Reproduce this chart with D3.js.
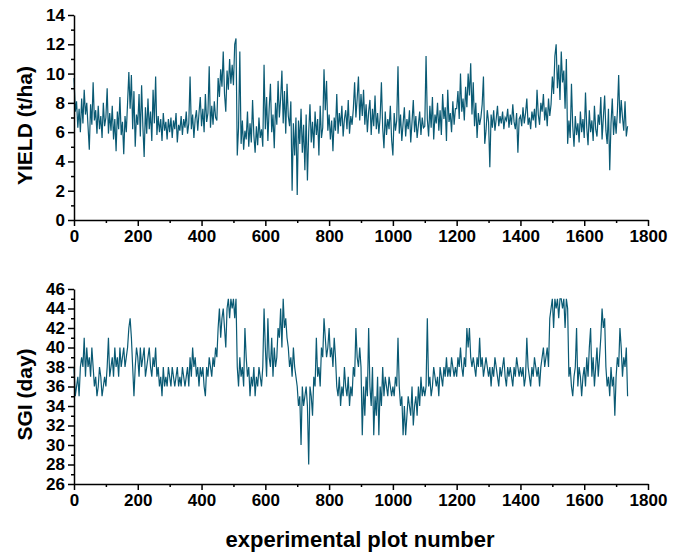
<!DOCTYPE html>
<html>
<head>
<meta charset="utf-8">
<script src="https://cdn.jsdelivr.net/npm/d3@7/dist/d3.min.js"></script>
<style>
  body { margin: 0; background: #fff; }
  text { font-family: "Liberation Sans", Arial, sans-serif; font-weight: bold; }
</style>
</head>
<body>
<div class="chart"></div>
<script>
const width = 686
const height = 556

// one reading every 4 plots (plot number = index * plotStep)
const plotStep = 4

// YIELD (t/ha)
const yieldValues = [
  9.7, 7.4, 8.1, 6.3, 7.6, 6.0, 8.3, 6.6, 8.9, 7.2, 8.0, 6.4, 4.8, 7.9, 6.5, 9.4, 6.8, 7.5, 5.9, 7.8, 6.2, 7.1, 5.6, 8.0, 6.4,
  7.0, 9.0, 5.9, 7.3, 6.1, 7.8, 5.5, 6.9, 4.7, 7.4, 6.2, 8.4, 5.8, 6.7, 4.5, 7.1, 6.0, 8.0, 10.1, 7.6, 9.9, 6.2, 8.8, 5.0, 7.2,
  6.5, 8.6, 5.7, 9.2, 6.4, 4.3, 7.7, 5.9, 8.3, 6.2, 7.4, 5.4, 8.9, 6.6, 9.8, 5.8, 7.1, 6.0, 6.9, 5.4, 7.3, 6.1, 6.7, 5.5, 6.9,
  6.0, 7.0, 5.6, 6.8, 6.2, 7.3, 5.3, 6.5, 6.1, 7.1, 5.8, 6.9, 6.3, 7.4, 5.9, 6.6, 9.8, 6.2, 7.2, 5.6, 6.9, 7.5, 6.1, 7.3, 8.4,
  6.4, 7.6, 6.0, 8.6, 6.7, 7.3, 10.5, 6.3, 7.8, 6.5, 8.1, 7.0, 6.8, 9.7, 8.4, 10.3, 9.1, 11.5, 8.6, 7.4, 10.2, 8.9, 11.0, 9.3, 10.6,
  9.2, 12.0, 12.4, 4.4, 6.3, 11.5, 5.2, 6.8, 4.8, 6.1, 5.5, 7.4, 5.0, 6.6, 5.3, 8.2, 5.8, 4.6, 6.4, 5.1, 7.0, 5.6, 6.2, 5.0, 10.6,
  6.2, 8.4, 5.4, 7.6, 9.3, 6.0, 7.2, 4.9, 8.0, 6.5, 9.5, 7.0, 8.3, 10.2, 6.6, 8.8, 5.9, 9.3, 7.1, 6.4, 8.1, 2.0, 6.6, 4.4, 7.0,
  1.7, 6.8, 5.2, 7.6, 4.6, 6.5, 3.4, 7.2, 2.7, 6.0, 7.9, 5.3, 6.7, 4.9, 7.4, 5.8, 6.9, 4.4, 7.8, 5.6, 6.3, 10.3, 7.5, 9.5, 6.1,
  7.2, 5.5, 6.8, 4.7, 7.0, 6.1, 8.6, 5.9, 7.3, 6.4, 7.8, 5.7, 6.9, 7.5, 6.2, 8.2, 5.9, 7.1, 6.5, 7.6, 9.4, 7.0, 8.3, 9.8, 6.8,
  8.6, 7.1, 8.9, 6.5, 7.9, 6.0, 7.4, 8.2, 5.8, 7.6, 6.4, 8.5, 6.2, 7.3, 5.9, 7.0, 9.4, 6.3, 4.9, 7.4, 5.8, 6.9, 6.2, 7.8, 5.5,
  4.4, 7.3, 6.1, 6.8, 10.5, 5.9, 7.2, 5.4, 6.6, 7.7, 5.7, 6.9, 6.2, 7.5, 5.3, 6.7, 8.2, 6.0, 7.1, 5.6, 6.5, 7.4, 5.8, 7.0, 6.3,
  6.4, 11.2, 6.9, 5.7, 7.8, 6.3, 8.4, 5.5, 7.2, 6.6, 8.0, 6.1, 7.5, 5.8, 8.6, 6.9, 7.7, 5.4, 8.9, 6.7, 7.3, 6.0, 8.1, 6.5, 7.6,
  7.6, 8.8, 6.9, 10.0, 7.4, 8.3, 6.8, 9.1, 7.7, 10.0, 8.5, 10.7, 7.2, 9.4, 6.4, 8.0, 5.6, 7.3, 6.5, 7.0, 7.9, 9.8, 5.2, 6.1, 7.5,
  6.7, 3.6, 7.2, 6.3, 7.5, 6.1, 6.9, 7.8, 6.4, 7.1, 6.6, 7.4, 6.2, 7.0, 6.8, 7.6, 6.3, 7.2, 6.5, 7.9, 6.7, 6.2, 7.3, 4.6, 6.9,
  7.1, 6.4, 7.7, 6.6, 7.3, 8.3, 6.5, 7.0, 6.2, 7.4, 6.8, 7.6, 6.3, 8.9, 7.2, 6.5, 8.0, 7.4, 8.6, 6.8, 7.7, 6.4, 8.3, 7.1, 7.9,
  9.8, 8.6, 11.2, 12.0, 9.0, 10.6, 8.2, 11.5, 9.4, 10.2, 7.6, 11.0, 5.2, 6.8, 5.6, 9.3, 6.4, 5.0, 7.1, 5.8, 6.6, 5.3, 7.4, 6.0, 6.9,
  5.6, 8.7, 6.3, 5.1, 7.5, 6.0, 6.8, 5.4, 7.8, 6.2, 5.7, 7.2, 6.5, 8.4, 5.5, 7.0, 8.5, 6.1, 5.2, 7.6, 3.4, 6.6, 8.3, 5.8, 7.1,
  5.9, 7.4, 9.9, 6.6, 8.2, 7.0, 6.1, 8.1, 5.7, 6.4
]

// SGI (day)
const sgiValues = [
  38, 35, 36, 37, 35, 38, 39, 38, 41, 37, 40, 38, 39, 37, 40, 38, 36, 37, 35, 36, 38, 37, 35, 36, 37,
  36, 38, 41, 37, 38, 39, 37, 40, 38, 39, 37, 40, 38, 39, 40, 38, 39, 40, 42, 43, 41, 38, 35, 38, 40,
  39, 37, 40, 38, 39, 40, 37, 38, 39, 40, 38, 37, 39, 38, 40, 37, 38, 36, 37, 35, 38, 36, 37, 36, 38,
  37, 36, 38, 37, 36, 37, 38, 36, 37, 36, 38, 37, 36, 37, 38, 36, 39, 37, 40, 38, 39, 37, 38, 36, 38,
  37, 38, 36, 35, 38, 37, 39, 38, 37, 39, 38, 40, 39, 42, 44, 41, 43, 44, 42, 40, 44, 45, 43, 45, 44,
  45, 43, 45, 38, 36, 39, 37, 38, 36, 42, 39, 37, 38, 35, 37, 36, 38, 35, 37, 36, 38, 37, 36, 38, 44,
  40, 37, 43, 39, 38, 41, 37, 40, 38, 39, 42, 41, 44, 40, 45, 42, 43, 41, 40, 38, 39, 37, 40, 38, 37,
  36, 34, 35, 30, 36, 34, 35, 36, 34, 28, 36, 35, 33, 37, 36, 41, 37, 38, 36, 40, 39, 43, 41, 39, 40,
  42, 39, 40, 38, 41, 39, 36, 35, 37, 34, 36, 35, 38, 36, 35, 37, 34, 36, 35, 38, 37, 42, 39, 38, 40,
  38, 31, 36, 33, 37, 35, 42, 36, 34, 38, 31, 35, 33, 37, 31, 36, 34, 38, 35, 37, 36, 35, 37, 36, 35,
  36, 35, 37, 36, 41, 36, 34, 35, 31, 34, 31, 33, 35, 34, 33, 36, 32, 34, 35, 33, 36, 34, 37, 35, 36,
  35, 36, 43, 36, 37, 35, 36, 38, 37, 36, 37, 35, 38, 37, 36, 38, 37, 39, 37, 38, 37, 39, 38, 37, 38,
  37, 39, 38, 40, 38, 37, 39, 38, 42, 40, 42, 39, 38, 39, 38, 37, 39, 38, 41, 38, 39, 37, 38, 39, 38,
  37, 38, 36, 38, 37, 39, 38, 37, 36, 38, 37, 38, 39, 37, 36, 38, 37, 38, 37, 36, 38, 37, 39, 38, 37,
  38, 37, 38, 36, 37, 41, 38, 37, 36, 38, 37, 39, 38, 37, 38, 36, 38, 39, 40, 38, 39, 40, 38, 43, 44,
  45, 42, 45, 44, 45, 43, 45, 45, 44, 45, 42, 45, 44, 37, 38, 36, 35, 37, 38, 42, 36, 38, 37, 35, 37,
  38, 36, 39, 37, 40, 42, 37, 39, 36, 38, 40, 37, 39, 41, 44, 42, 43, 38, 36, 37, 35, 38, 36, 37, 33,
  37, 39, 38, 42, 40, 37, 39, 38, 40, 35
]

const xTicks = [0, 200, 400, 600, 800, 1000, 1200, 1400, 1600, 1800]
const xMinorTicks = [100, 300, 500, 700, 900, 1100, 1300, 1500, 1700]
const yieldTicks = [0, 2, 4, 6, 8, 10, 12, 14]
const yieldMinorTicks = [1, 3, 5, 7, 9, 11, 13]
const sgiTicks = [26, 28, 30, 32, 34, 36, 38, 40, 42, 44, 46]
const sgiMinorTicks = [27, 29, 31, 33, 35, 37, 39, 41, 43, 45]

const lineColor = "#0a5a74"

const svg = d3.select('.chart')
    .append('svg')
    .attr('width', width)
    .attr('height', height)

const x = d3.scaleLinear().domain([0, 1800]).range([74, 648])

// draws one panel: line + left/bottom axes
function drawPanel(values, domain, top, bottom, ticks, minorTicks, title) {
    const y = d3.scaleLinear().domain(domain).range([bottom, top])

    const line = d3.line()
        .x((d, i) => x(i * plotStep))
        .y(d => y(d))

    svg.append("path")
        .datum(values)
        .attr("d", line)
        .attr("fill", "none")
        .attr("stroke", lineColor)
        .attr("stroke-width", 1.2)
        .attr("stroke-linejoin", "miter")

    // minor ticks first, majors on top
    const xMinor = svg.append("g")
        .attr("transform", `translate(0,${bottom})`)
        .call(d3.axisBottom(x).tickValues(xMinorTicks).tickSize(3).tickFormat(""))
    const xMajor = svg.append("g")
        .attr("transform", `translate(0,${bottom})`)
        .call(d3.axisBottom(x).tickValues(xTicks).tickSize(6).tickSizeOuter(0).tickPadding(4).tickFormat(d3.format("d")))
    const yMinor = svg.append("g")
        .attr("transform", `translate(74,0)`)
        .call(d3.axisLeft(y).tickValues(minorTicks).tickSize(3).tickFormat(""))
    const yMajor = svg.append("g")
        .attr("transform", `translate(74,0)`)
        .call(d3.axisLeft(y).tickValues(ticks).tickSize(6).tickSizeOuter(0).tickPadding(3))

    ;[xMinor, yMinor].forEach(g => g.select(".domain").remove())
    ;[xMinor, xMajor, yMinor, yMajor].forEach(g => {
        g.selectAll("line").attr("stroke", "#000").attr("stroke-width", 1.5)
        g.select(".domain").attr("stroke", "#000").attr("stroke-width", 1.5)
        g.selectAll("text").attr("fill", "#000").attr("font-size", "17px")
            .attr("font-family", "'Liberation Sans', Arial, sans-serif").attr("font-weight", "bold")
    })

    svg.append("text")
        .attr("transform", `translate(32,${(top + bottom) / 2 + 8}) rotate(-90)`)
        .attr("text-anchor", "middle")
        .attr("font-size", "21px")
        .text(title)
}

drawPanel(yieldValues, [0, 14], 15, 220, yieldTicks, yieldMinorTicks, "YIELD (t/ha)")
drawPanel(sgiValues, [26, 46], 289, 484, sgiTicks, sgiMinorTicks, "SGI (day)")

svg.append("text")
    .attr("x", 360)
    .attr("y", 547)
    .attr("text-anchor", "middle")
    .attr("font-size", "22px")
    .text("experimental plot number")
</script>
</body>
</html>
